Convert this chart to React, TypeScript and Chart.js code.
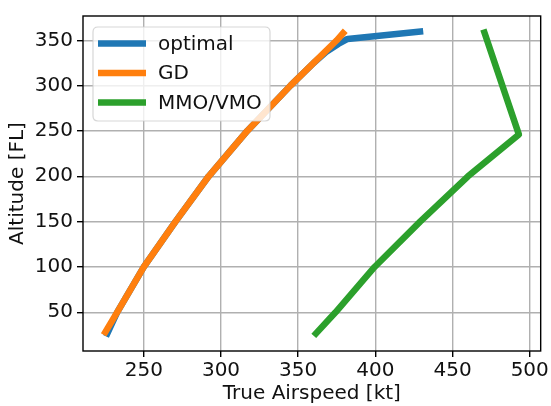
import React, { useEffect, useRef } from "react";
import { Chart, registerables } from "chart.js";

Chart.register(...registerables);

const SERIES_LABELS = ["optimal", "GD", "MMO/VMO"];
const COLORS = ["#1f77b4", "#ff7f0e", "#2ca02c"];

const OPT_TAS = [225.5, 232.7, 250, 270.5, 292, 317, 345, 360, 368, 376, 382, 431];
const OPT_FL = [23.5, 50, 100, 150, 200, 250, 300, 325, 337, 346, 351.5, 360];

const GD_TAS = [224, 232.7, 250, 270.5, 292, 317, 345, 375, 380.5];
const GD_FL = [25, 50, 100, 150, 200, 250, 300, 350, 360.5];

const MMO_TAS = [360.1, 374.2, 399.5, 429, 460, 493, 470];
const MMO_FL = [24, 50, 100, 150, 200, 246, 362];

const X_TICKS = [250, 300, 350, 400, 450, 500];
const Y_TICKS = [50, 100, 150, 200, 250, 300, 350];

const X_TITLE = "True Airspeed [kt]";
const Y_TITLE = "Altitude [FL]";

const FONT = "'DejaVu Sans', sans-serif";

const toPts = (xs: number[], ys: number[]) => xs.map((x, i) => ({ x, y: ys[i] }));

const framePlugin = {
  id: "frameLegend",
  afterDatasetsDraw(chart: any) {
    const { ctx, chartArea: a } = chart;
    ctx.save();
    ctx.strokeStyle = "#000";
    ctx.lineWidth = 1.4;
    ctx.strokeRect(a.left, a.top, a.right - a.left, a.bottom - a.top);

    // legend
    const bx = a.left + 10;
    const by = a.top + 11;
    const bw = 177;
    const bh = 94;
    const r = 5;
    ctx.beginPath();
    ctx.moveTo(bx + r, by);
    ctx.lineTo(bx + bw - r, by);
    ctx.quadraticCurveTo(bx + bw, by, bx + bw, by + r);
    ctx.lineTo(bx + bw, by + bh - r);
    ctx.quadraticCurveTo(bx + bw, by + bh, bx + bw - r, by + bh);
    ctx.lineTo(bx + r, by + bh);
    ctx.quadraticCurveTo(bx, by + bh, bx, by + bh - r);
    ctx.lineTo(bx, by + r);
    ctx.quadraticCurveTo(bx, by, bx + r, by);
    ctx.closePath();
    ctx.fillStyle = "rgba(255,255,255,0.8)";
    ctx.fill();
    ctx.strokeStyle = "rgba(204,204,204,0.8)";
    ctx.lineWidth = 1.2;
    ctx.stroke();

    const items = [...chart.data.datasets].sort((p: any, q: any) => p.legendIndex - q.legendIndex);
    items.forEach((ds: any, i: number) => {
      const cy = by + 16.5 + i * 29.5;
      ctx.beginPath();
      ctx.strokeStyle = ds.borderColor;
      ctx.lineWidth = 6.5;
      ctx.lineCap = "butt";
      ctx.moveTo(bx + 5, cy);
      ctx.lineTo(bx + 53, cy);
      ctx.stroke();
      ctx.fillStyle = "#111";
      ctx.font = `20px ${FONT}`;
      ctx.textBaseline = "middle";
      ctx.textAlign = "left";
      ctx.fillText(ds.label, bx + 65, cy + 1);
    });
    ctx.restore();
  },
};

export default function App() {
  const ref = useRef<HTMLCanvasElement | null>(null);

  useEffect(() => {
    document.body.style.margin = "0";
    const canvas = ref.current!;
    const mk = (i: number, xs: number[], ys: number[]) => ({
      label: SERIES_LABELS[i],
      legendIndex: i,
      order: 3 - i,
      data: toPts(xs, ys),
      borderColor: COLORS[i],
      backgroundColor: COLORS[i],
      borderWidth: 6.5,
      borderCapStyle: "butt" as const,
      borderJoinStyle: "round" as const,
      pointRadius: 0,
      tension: 0,
      fill: false,
    });
    const chart = new Chart(canvas, {
      type: "line",
      data: {
        datasets: [
          mk(0, OPT_TAS, OPT_FL),
          mk(1, GD_TAS, GD_FL),
          mk(2, MMO_TAS, MMO_FL),
        ] as any,
      },
      options: {
        animation: false,
        responsive: false,
        maintainAspectRatio: false,
        layout: { padding: { top: 12, right: 8, left: 0, bottom: 0 } },
        plugins: { legend: { display: false }, tooltip: { enabled: false } },
        scales: {
          x: {
            type: "linear",
            min: 210.6,
            max: 507.1,
            afterBuildTicks: (s: any) => {
              s.ticks = X_TICKS.map((v) => ({ value: v }));
            },
            afterFit: (s: any) => {
              s.height = 55;
            },
            grid: { color: "#b0b0b0", lineWidth: 1.4, tickColor: "#000", tickLength: 6 },
            border: { display: false },
            ticks: {
              color: "#111",
              font: { family: FONT, size: 20 },
              padding: 2,
              maxRotation: 0,
              autoSkip: false,
            },
            title: {
              display: true,
              text: X_TITLE,
              color: "#111",
              font: { family: FONT, size: 20, lineHeight: 1 },
              padding: { top: 0, bottom: 2 },
            },
          },
          y: {
            type: "linear",
            min: 7.3,
            max: 376.8,
            afterBuildTicks: (s: any) => {
              s.ticks = Y_TICKS.map((v) => ({ value: v }));
            },
            afterFit: (s: any) => {
              s.width = 83;
            },
            grid: { color: "#b0b0b0", lineWidth: 1.4, tickColor: "#000", tickLength: 6 },
            border: { display: false },
            ticks: {
              color: "#111",
              font: { family: FONT, size: 20 },
              padding: 4,
              autoSkip: false,
            },
            title: {
              display: true,
              text: Y_TITLE,
              color: "#111",
              font: { family: FONT, size: 20, lineHeight: 1 },
              padding: { top: 8, bottom: 0 },
            },
          },
        },
      },
      plugins: [framePlugin],
    });
    return () => chart.destroy();
  }, []);

  return (
    <div style={{ position: "absolute", left: 0, top: 0, width: 551, height: 406, background: "#fff" }}>
      <canvas ref={ref} width={551} height={406} style={{ display: "block" }} />
    </div>
  );
}
